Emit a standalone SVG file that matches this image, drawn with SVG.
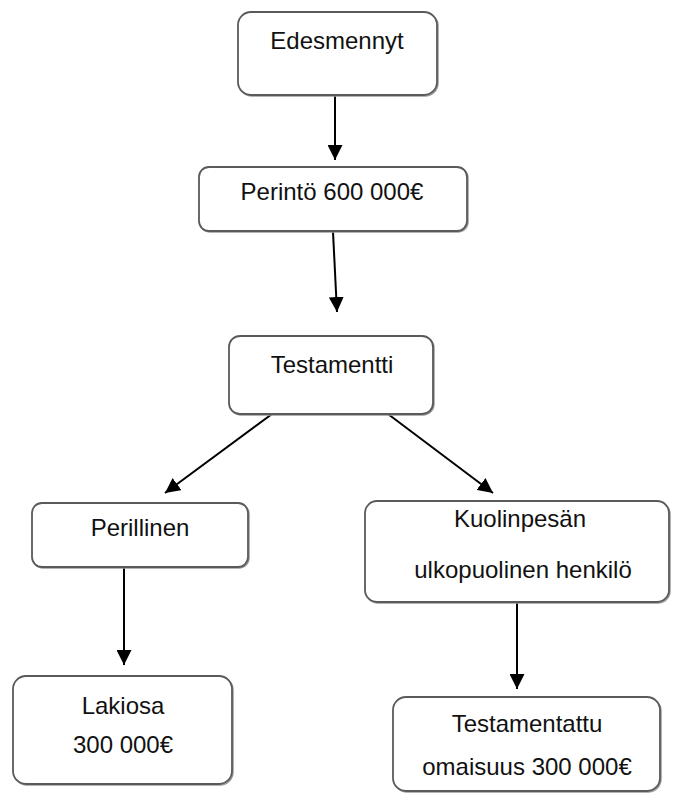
<svg xmlns="http://www.w3.org/2000/svg" width="673" height="794" viewBox="0 0 673 794">
<style>
.box{fill:#fff;stroke:#5a5a5a;stroke-width:1.8}
.sh{fill:none;stroke:#9a9a9a;stroke-width:1.5}
.t{font-family:"Liberation Sans",Arial,sans-serif;font-size:24px;fill:#111;text-anchor:middle}
.c{stroke:#000;stroke-width:2;fill:none;marker-end:url(#ah)}
</style>
<defs>
<marker id="ah" viewBox="0 0 10 10" refX="10" refY="5" markerWidth="7.5" markerHeight="7.5" markerUnits="strokeWidth" orient="auto">
<path d="M0,0 L10,5 L0,10 Z" fill="#000"/>
</marker>
</defs>
<rect width="673" height="794" fill="#fff"/>
<g id="connectors">
<line class="c" x1="335" y1="96" x2="335" y2="160"/>
<line class="c" x1="333" y1="232" x2="337" y2="312"/>
<line class="c" x1="272" y1="414" x2="165" y2="493"/>
<line class="c" x1="388" y1="414" x2="493" y2="493"/>
<line class="c" x1="124" y1="568" x2="124" y2="665"/>
<line class="c" x1="517" y1="603" x2="517" y2="689"/>
</g>
<g id="n1"><rect class="sh" x="239" y="13" width="199" height="83" rx="13"/><rect class="box" x="238" y="12" width="199" height="83" rx="13"/><text class="t" x="337" y="49">Edesmennyt</text></g>
<g id="n2"><rect class="sh" x="200" y="168" width="268" height="64" rx="10"/><rect class="box" x="199" y="167" width="268" height="64" rx="10"/><text class="t" x="332" y="200">Perintö 600 000€</text></g>
<g id="n3"><rect class="sh" x="230" y="337" width="204" height="78" rx="11"/><rect class="box" x="229" y="336" width="204" height="78" rx="11"/><text class="t" x="332" y="373">Testamentti</text></g>
<g id="n4"><rect class="sh" x="33" y="504" width="216" height="64" rx="10"/><rect class="box" x="32" y="503" width="216" height="64" rx="10"/><text class="t" x="140" y="536">Perillinen</text></g>
<g id="n5"><rect class="sh" x="366" y="502" width="304" height="101" rx="12"/><rect class="box" x="365" y="501" width="304" height="101" rx="12"/><text class="t" x="520" y="527">Kuolinpesän</text><text class="t" x="523" y="578">ulkopuolinen henkilö</text></g>
<g id="n6"><rect class="sh" x="14" y="677" width="219" height="108" rx="13"/><rect class="box" x="13" y="676" width="219" height="108" rx="13"/><text class="t" x="123" y="714">Lakiosa</text><text class="t" x="123" y="753">300 000€</text></g>
<g id="n7"><rect class="sh" x="394" y="698" width="267" height="94" rx="13"/><rect class="box" x="393" y="697" width="267" height="94" rx="13"/><text class="t" x="527" y="732">Testamentattu</text><text class="t" x="527" y="775">omaisuus 300 000€</text></g>
</svg>
